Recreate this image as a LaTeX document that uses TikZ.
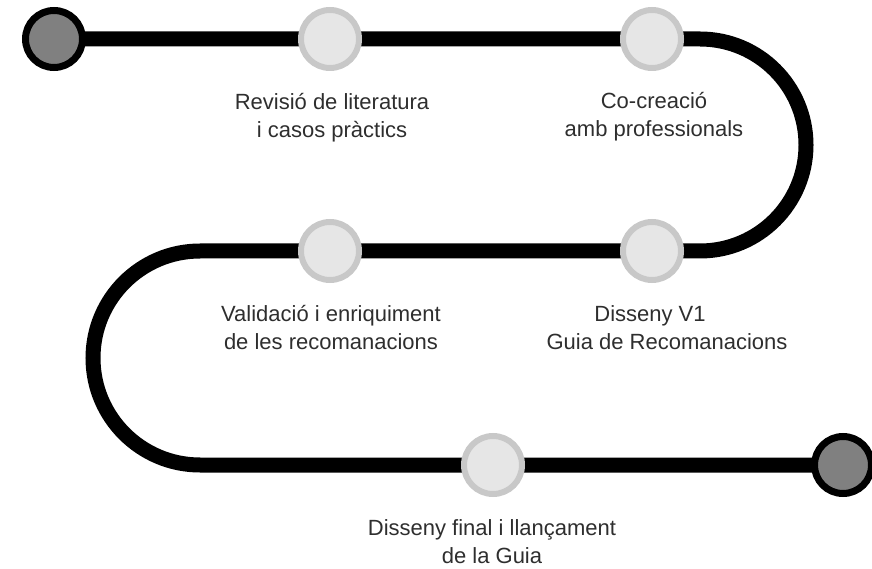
\documentclass[tikz,border=0pt]{standalone}
\usepackage{fontspec}
\setmainfont{Liberation Sans}
\definecolor{darkfill}{HTML}{808080}
\definecolor{lightfill}{HTML}{E6E6E6}
\definecolor{lightborder}{HTML}{C8C8C8}
\definecolor{txt}{HTML}{2E2E2E}
\begin{document}
\begin{tikzpicture}[x=1pt,y=1pt,
  endpt/.style={circle,draw=black,line width=7pt,fill=darkfill,minimum size=57pt,inner sep=0pt},
  milestone/.style={circle,draw=lightborder,line width=6pt,fill=lightfill,minimum size=58pt,inner sep=0pt},
  lbl/.style={align=center,anchor=base,inner sep=0pt,text=txt,font=\fontsize{22}{28}\selectfont},
  road/.style={line width=15pt,draw=black}]
\useasboundingbox (0,0) rectangle (872,568);
% positions
\coordinate (ps) at (54,529);
\coordinate (p1) at (330,529);
\coordinate (p2) at (652,529);
\coordinate (p3) at (652,317);
\coordinate (p4) at (330,317);
\coordinate (p5) at (493,103);
\coordinate (pe) at (843,103);
\coordinate (r1) at (700,529);
\coordinate (l1) at (200,317);
% road
\path[road] (ps) -- (p1) -- (p2) -- (r1) arc[start angle=90,end angle=-90,radius=106] -- (p3) -- (p4) -- (l1) arc[start angle=90,end angle=270,radius=107] -- (p5) -- (pe);
% stations
\node[endpt] (s) at (ps) {};
\node[milestone] (m1) at (p1) {};
\node[milestone] (m2) at (p2) {};
\node[milestone] (m3) at (p3) {};
\node[milestone] (m4) at (p4) {};
\node[milestone] (m5) at (p5) {};
\node[endpt] (e) at (pe) {};
% labels (anchor base = last line)
\node[lbl] (t1) at (332,430) {Revisió de literatura\\i casos pràctics};
\node[lbl] (t2) at (654,431) {Co-creació\\amb professionals};
\node[lbl] (t3) at (331,218.5) {Validació i enriquiment\\de les recomanacions};
\node[lbl] (t4) at (667,218.5) {Disseny V1\hspace*{34pt}\\Guia de Recomanacions};
\node[lbl] (t5) at (492,5) {Disseny final i llançament\\de la Guia};
\end{tikzpicture}
\end{document}
